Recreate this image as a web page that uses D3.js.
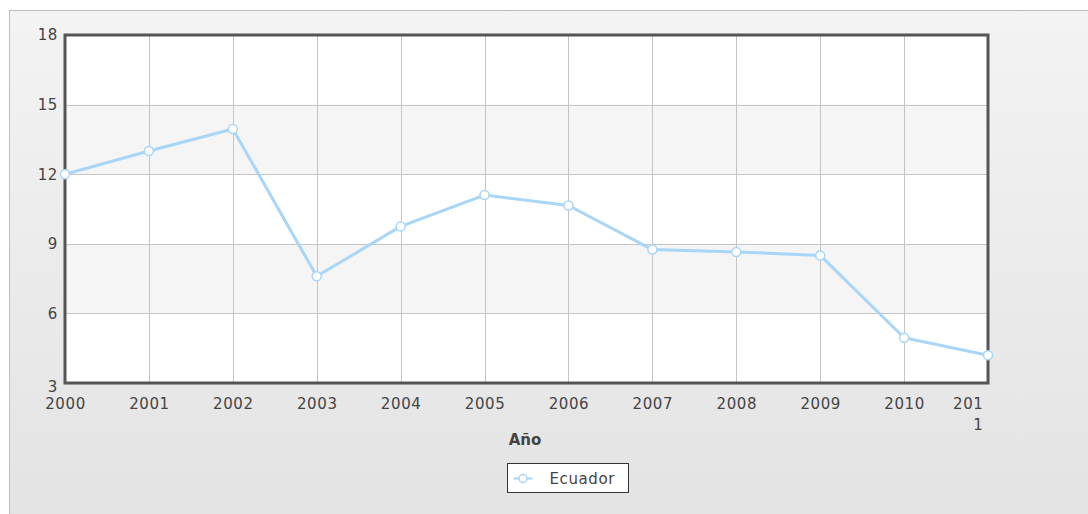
<!DOCTYPE html>
<html>
<head>
<meta charset="utf-8">
<script src="https://cdn.jsdelivr.net/npm/d3@7"></script>
<style>
  body { margin: 0; background: #fff; }
  svg { display: block; }
  .tick text { font-family: "DejaVu Sans", Verdana, sans-serif; font-size: 15px; fill: #444; letter-spacing: 0.6px; }
</style>
</head>
<body>
<div id="chart"></div>
<script>
// chart data
var years = [2000, 2001, 2002, 2003, 2004, 2005, 2006, 2007, 2008, 2009, 2010, 2011];
var ecuador = [12, 13, 13.95, 7.6, 9.75, 11.1, 10.65, 8.75, 8.65, 8.5, 4.95, 4.2];
var yTicks = [3, 6, 9, 12, 15, 18];
var seriesName = "Ecuador";
var xTitle = "Año";

var svgWidth = 1088, svgHeight = 514;
var margin = {top: 35, right: 100, bottom: 131, left: 65};
var width = svgWidth - margin.left - margin.right;   // 923
var height = svgHeight - margin.top - margin.bottom; // 348

var svg = d3.select("#chart").append("svg")
  .attr("width", svgWidth)
  .attr("height", svgHeight);

// panel background
var defs = svg.append("defs");
var grad = defs.append("linearGradient").attr("id", "bg").attr("x1", 0).attr("y1", 0).attr("x2", 0).attr("y2", 1);
grad.append("stop").attr("offset", "0%").attr("stop-color", "#f3f3f3");
grad.append("stop").attr("offset", "100%").attr("stop-color", "#e3e3e3");

svg.append("rect")
  .attr("x", 9.5).attr("y", 10.5)
  .attr("width", svgWidth).attr("height", svgHeight)
  .attr("fill", "url(#bg)")
  .attr("stroke", "#bdbdbd");

var g = svg.append("g").attr("transform", `translate(${margin.left}, ${margin.top})`);

var x = d3.scaleLinear().domain([years[0], years[years.length - 1]]).range([0, width]);
var y = d3.scaleLinear().domain([3, 18]).range([height, 0]);

// plot background with alternating bands
g.append("rect").attr("width", width).attr("height", height).attr("fill", "#fff");
g.selectAll(".band")
  .data(d3.pairs(yTicks).filter((d, i) => i % 2 == 1))
  .enter().append("rect")
  .attr("class", "band")
  .attr("x", 0)
  .attr("y", d => y(d[1]))
  .attr("width", width)
  .attr("height", d => y(d[0]) - y(d[1]))
  .attr("fill", "#f5f5f5");

// grid lines
g.selectAll(".hgrid")
  .data(yTicks)
  .enter().append("line")
  .attr("x1", 0).attr("x2", width)
  .attr("y1", d => Math.round(y(d)) + 0.5).attr("y2", d => Math.round(y(d)) + 0.5)
  .attr("stroke", "#c4c4c4");
g.selectAll(".vgrid")
  .data(years)
  .enter().append("line")
  .attr("x1", d => Math.round(x(d)) + 0.5).attr("x2", d => Math.round(x(d)) + 0.5)
  .attr("y1", 0).attr("y2", height)
  .attr("stroke", "#c4c4c4");

// frame
g.append("rect")
  .attr("width", width).attr("height", height)
  .attr("fill", "none")
  .attr("stroke", "#555")
  .attr("stroke-width", 3);

// axes
var leftAxis = d3.axisLeft(y).tickValues(yTicks).tickSize(0).tickPadding(7);
var yAxisG = g.append("g").call(leftAxis);
yAxisG.select(".domain").remove();
yAxisG.selectAll(".tick").filter(d => d == 3).select("text").attr("dy", "0.55em");

var bottomAxis = d3.axisBottom(x).tickValues(years).tickFormat(d3.format("d")).tickSize(0).tickPadding(15);
var xAxisG = g.append("g").attr("transform", `translate(0,${height})`).call(bottomAxis);
xAxisG.select(".domain").remove();

// last label wraps inside the chart width
var lastTick = xAxisG.selectAll(".tick").filter(d => d == years[years.length - 1]).select("text");
var lastLabel = String(years[years.length - 1]);
lastTick.text(null).attr("text-anchor", "end");
lastTick.append("tspan").attr("x", -5).attr("dy", "0.71em").text(lastLabel.slice(0, 3));
lastTick.append("tspan").attr("x", -5).attr("dy", "1.4em").text(lastLabel.slice(3));

// axis title
g.append("text")
  .attr("x", 460)
  .attr("y", height + 62)
  .attr("text-anchor", "middle")
  .style("font-family", "DejaVu Sans, Verdana, sans-serif")
  .style("font-size", "15px")
  .style("font-weight", "bold")
  .style("fill", "#444")
  .text(xTitle);

// line
var line = d3.line()
  .x((d, i) => x(years[i]))
  .y(d => y(d));

g.append("path")
  .datum(ecuador)
  .attr("d", line)
  .attr("fill", "none")
  .attr("stroke", "#a9d5f7")
  .attr("stroke-width", 3)
  .attr("stroke-linejoin", "round");

g.selectAll(".pt")
  .data(ecuador)
  .enter().append("circle")
  .attr("cx", (d, i) => x(years[i]))
  .attr("cy", d => y(d))
  .attr("r", 4.5)
  .attr("fill", "#fff")
  .attr("stroke", "#a9d5f7")
  .attr("stroke-width", 1.5);

// legend
var legend = svg.append("g").attr("transform", "translate(507.5, 463.5)");
legend.append("rect")
  .attr("width", 121).attr("height", 29)
  .attr("fill", "#fff")
  .attr("stroke", "#333");
legend.append("line")
  .attr("x1", 6).attr("x2", 25).attr("y1", 15).attr("y2", 15)
  .attr("stroke", "#a9d5f7").attr("stroke-width", 2);
legend.append("circle")
  .attr("cx", 15.5).attr("cy", 15).attr("r", 4)
  .attr("fill", "#fff").attr("stroke", "#a9d5f7").attr("stroke-width", 1.5);
legend.append("text")
  .attr("x", 42).attr("y", 20)
  .style("font-family", "DejaVu Sans, Verdana, sans-serif")
  .style("font-size", "15px")
  .style("letter-spacing", "0.6px")
  .style("fill", "#444")
  .text(seriesName);
</script>
</body>
</html>
